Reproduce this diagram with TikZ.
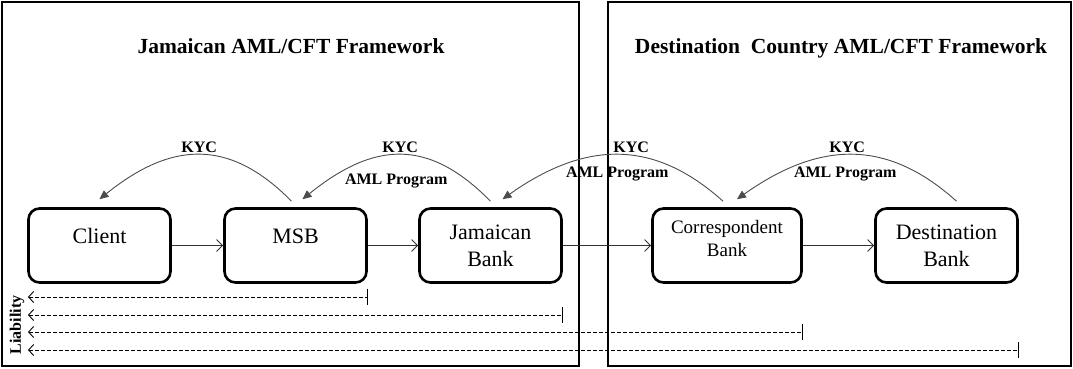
\documentclass[tikz,border=0pt]{standalone}
\usepackage{fontspec}
\setmainfont{Liberation Serif}
\usetikzlibrary{arrows.meta}

\tikzstyle{fS}=[line width=2.6pt]
\tikzstyle{bS}=[rectangle,rounded corners=11pt,line width=2.6pt,draw,minimum width=142pt,minimum height=74pt,inner sep=0pt,align=center,font=\fontsize{22}{27}\selectfont]
\tikzstyle{oS}=[text height=14pt,text depth=19pt]
\tikzstyle{tS}=[font=\fontsize{21.5}{25}\selectfont\bfseries]
\tikzstyle{aS}=[draw=black!80,line width=0.9pt,-{Straight Barb[length=6pt,width=12pt]}]
\tikzstyle{cS}=[draw=black!70,line width=0.9pt,-{Triangle[length=9pt,width=8pt]}]
\tikzstyle{cNS}=[font=\fontsize{16}{18}\selectfont\bfseries,inner sep=2pt]
\tikzstyle{dS}=[line width=0.9pt,dash pattern=on 3.5pt off 2.5pt,{Straight Barb[length=5pt,width=11pt]}-{Bar[width=16pt]}]

\begin{document}
\begin{tikzpicture}[x=1pt,y=-1pt]
                \useasboundingbox (0,0) rectangle (1073,368);
                % the two frameworks
                \draw[fS] (2,2) rectangle (579,366);
                \draw[fS] (608,2) rectangle (1071,366);
                \draw (291,46) node[tS] (t1) {Jamaican AML/CFT Framework};
                \draw (841,48) node[tS] (t2) {Destination\ \ Country AML/CFT Framework};

                \draw (99.5,245.5) node[bS,oS] (client) {Client};
                \draw (295.5,245.5) node[bS,oS] (msb) {MSB};
                \draw (490.5,245.5) node[bS] (jam) {Jamaican\\Bank};
                \draw (727,245.5) node[bS,minimum width=149pt,font=\fontsize{19}{23}\selectfont] (corr) {Correspondent\\Bank\\[-8pt]};
                \draw (946.5,245.5) node[bS] (dest) {Destination\\Bank};
                \path
                    (client) edge[aS] (msb)
                    (msb) edge[aS] (jam)
                    (jam) edge[aS] (corr)
                    (corr) edge[aS] (dest)
                ;

                % KYC / AML Program
                \draw[cS] ([xshift=-4pt,yshift=6pt]msb.north) .. controls +(-62,-63) and +(72,-58) .. ([yshift=8pt]client.north)
                    node[cNS,pos=0.5,above]{KYC};
                \draw[cS] ([yshift=6pt]jam.north) .. controls +(-62,-63) and +(72,-58) .. ([xshift=7pt,yshift=8pt]msb.north)
                    node[cNS,pos=0.5,above]{KYC}
                    node[cNS,pos=0.5,below=17pt,xshift=-4pt]{AML Program};
                \draw[cS] ([xshift=-4pt,yshift=6pt]corr.north) .. controls +(-70,-63) and +(82,-58) .. ([xshift=12pt,yshift=8pt]jam.north)
                    node[cNS,pos=0.5,above,xshift=14pt]{KYC}
                    node[cNS,pos=0.5,below=10pt]{AML Program};
                \draw[cS] ([xshift=10pt,yshift=6pt]dest.north) .. controls +(-70,-63) and +(82,-58) .. ([xshift=10pt,yshift=8pt]corr.north)
                    node[cNS,pos=0.5,above,xshift=-4pt]{KYC}
                    node[cNS,pos=0.5,below=10pt,xshift=-6pt]{AML Program};

                % liability
                \coordinate (l1) at (28,297);
                \coordinate (l2) at (28,315);
                \coordinate (l3) at (28,332);
                \coordinate (l4) at (28,350);
                \draw[dS] (l1) -- (msb.east |- l1);
                \draw[dS] (l2) -- (jam.east |- l2);
                \draw[dS] (l3) -- (corr.east |- l3);
                \draw[dS] (l4) -- (dest.east |- l4);
                \draw (17,325) node[rotate=90,font=\fontsize{16}{18}\selectfont\bfseries] (liab) {Liability};
        \end{tikzpicture}
\end{document}
